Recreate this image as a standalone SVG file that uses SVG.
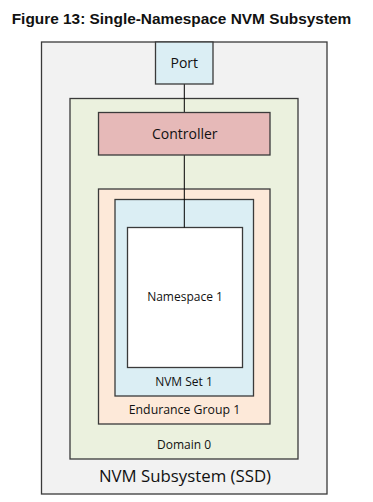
<svg xmlns="http://www.w3.org/2000/svg" width="373" height="502" viewBox="0 0 373 502">
  <style>
    .box { stroke: #3a3a3a; stroke-width: 1.3; }
    .lbl { font-family: "Open Sans", "Liberation Sans", sans-serif; font-size: 12px; fill: #111; text-anchor: middle; }
    .title { font-family: "Liberation Sans", Arial, sans-serif; font-size: 15.4px; font-weight: bold; fill: #111; text-anchor: middle; }
    .link { stroke: #000; stroke-width: 1; fill: none; }
  </style>
  <rect width="373" height="502" fill="#fff"/>
  <text class="title" x="181.5" y="24">Figure 13: Single-Namespace NVM Subsystem</text>

  <g id="subsystem">
    <rect class="box" x="41.5" y="42" width="285.5" height="452" fill="#f2f2f2"/>
    <text class="lbl" x="185" y="481.5" style="font-size:16.8px">NVM Subsystem (SSD)</text>
  </g>
  <g id="domain">
    <rect class="box" x="70" y="98.5" width="228" height="360.5" fill="#ebf1de"/>
    <text class="lbl" x="184" y="449">Domain 0</text>
  </g>
  <g id="endurance-group">
    <rect class="box" x="98.5" y="189" width="171.5" height="235" fill="#fde9d9"/>
    <text class="lbl" x="184.5" y="414" style="font-size:12.3px">Endurance Group 1</text>
  </g>
  <g id="nvm-set">
    <rect class="box" x="115" y="199.5" width="138.5" height="196.5" fill="#dbeef4"/>
    <text class="lbl" x="184" y="386">NVM Set 1</text>
  </g>
  <g id="namespace">
    <rect class="box" x="127.5" y="227.5" width="115" height="140" fill="#ffffff"/>
    <text class="lbl" x="185" y="301">Namespace 1</text>
  </g>

  <g id="connectors">
    <line class="link" x1="184.3" y1="84" x2="184.3" y2="112.5"/>
    <line class="link" x1="184.3" y1="155" x2="184.3" y2="227.5"/>
  </g>

  <g id="port">
    <rect class="box" x="155.5" y="42" width="57.5" height="42" fill="#dbeef4"/>
    <text class="lbl" x="184.3" y="68" style="font-size:14px">Port</text>
  </g>
  <g id="controller">
    <rect class="box" x="98.5" y="112.5" width="171.5" height="42.5" fill="#e6b9b8"/>
    <text class="lbl" x="184.8" y="139" style="font-size:14px">Controller</text>
  </g>
</svg>
